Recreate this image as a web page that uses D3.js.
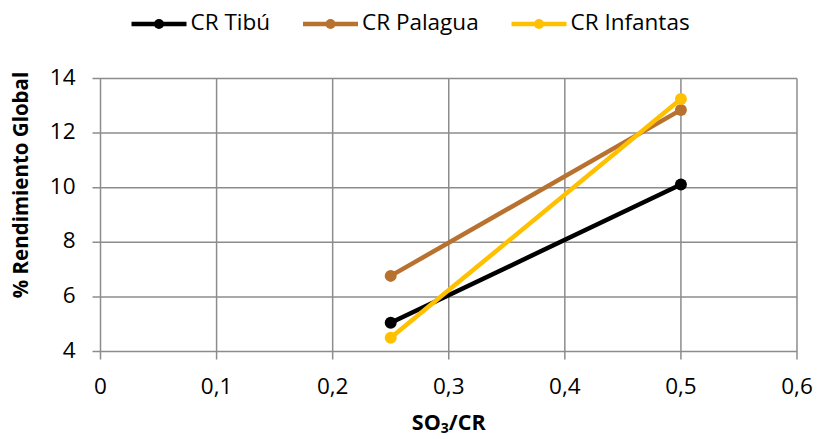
<!DOCTYPE html>
<html>
<head>
<meta charset="utf-8">
<script src="https://cdn.jsdelivr.net/npm/d3@7"></script>
<style>
  body { margin: 0; background: #fff; }
  svg { display: block; font-family: "Open Sans", Lato, sans-serif; }
</style>
</head>
<body>
<div id="chart"></div>
<script>
// ── Data ──
const seriesNames = ["CR Tibú", "CR Palagua", "CR Infantas"];
const seriesColors = ["#000000", "#B8712F", "#FFC000"];
const ratioValues = [0.25, 0.5];
const tibuValues = [5.05, 10.12];
const palaguaValues = [6.77, 12.85];
const infantasValues = [4.5, 13.25];

const xTicks = [0, 0.1, 0.2, 0.3, 0.4, 0.5, 0.6];
const yTicks = [4, 6, 8, 10, 12, 14];

const WIDTH = 817;
const HEIGHT = 439;
const margin = { left: 100.5, right: 20, top: 78.5, bottom: 87.5 };

const series = [tibuValues, palaguaValues, infantasValues].map((vals, i) => ({
    name: seriesNames[i],
    color: seriesColors[i],
    points: vals.map((v, j) => ({ x: ratioValues[j], y: v }))
}));

const svg = d3.select("#chart")
    .append("svg")
    .attr("width", WIDTH)
    .attr("height", HEIGHT);

// ── Scales ──
const x = d3.scaleLinear().domain([0, 0.6]).range([margin.left, WIDTH - margin.right]);
const y = d3.scaleLinear().domain([4, 14]).range([HEIGHT - margin.bottom, margin.top]);

const gridColor = "#8c8c8c";
const fmt = d => d3.format(".1~f")(d).replace(".", ",");

// ── Gridlines ──
svg.append("g")
    .selectAll("line")
    .data(xTicks)
    .join("line")
    .attr("x1", d => x(d)).attr("x2", d => x(d))
    .attr("y1", y(14)).attr("y2", y(4) + 8)
    .attr("stroke", gridColor)
    .attr("stroke-width", 1.5);

svg.append("g")
    .selectAll("line")
    .data(yTicks)
    .join("line")
    .attr("x1", x(0) - 8).attr("x2", x(0.6))
    .attr("y1", d => y(d)).attr("y2", d => y(d))
    .attr("stroke", gridColor)
    .attr("stroke-width", 1.5);

// ── Tick labels ──
svg.append("g")
    .selectAll("text")
    .data(xTicks)
    .join("text")
    .attr("x", d => x(d))
    .attr("y", y(4) + 36)
    .attr("text-anchor", "middle")
    .attr("dominant-baseline", "middle")
    .attr("font-size", 22.5)
    .attr("fill", "#000")
    .text(d => d === 0 ? "0" : fmt(d));

svg.append("g")
    .selectAll("text")
    .data(yTicks)
    .join("text")
    .attr("x", x(0) - 25)
    .attr("y", d => y(d))
    .attr("text-anchor", "end")
    .attr("dominant-baseline", "middle")
    .attr("font-size", 22.5)
    .attr("fill", "#000")
    .text(d => d);

// ── Axis titles ──
const xTitle = svg.append("text")
    .attr("x", (x(0) + x(0.6)) / 2)
    .attr("y", 430)
    .attr("text-anchor", "middle")
    .attr("font-size", 21.5)
    .attr("font-weight", "bold");
xTitle.append("tspan").text("SO");
xTitle.append("tspan").attr("font-size", 14).attr("dy", 3).text("3");
xTitle.append("tspan").attr("dy", -3).text("/CR");

svg.append("text")
    .attr("transform", `translate(23, 185) rotate(-90)`)
    .attr("text-anchor", "middle")
    .attr("dominant-baseline", "middle")
    .attr("font-size", 20.5)
    .attr("font-weight", "bold")
    .text("% Rendimiento Global");

// ── Series lines and markers ──
const line = d3.line().x(d => x(d.x)).y(d => y(d.y));

series.forEach(s => {
    const g = svg.append("g");
    g.append("path")
        .datum(s.points)
        .attr("d", line)
        .attr("fill", "none")
        .attr("stroke", s.color)
        .attr("stroke-width", 4.5)
        .attr("stroke-linecap", "round");
    g.selectAll("circle")
        .data(s.points)
        .join("circle")
        .attr("cx", d => x(d.x))
        .attr("cy", d => y(d.y))
        .attr("r", 6)
        .attr("fill", s.color);
});

// ── Legend ──
const legendX = [131.5, 303, 511.5];
const legend = svg.append("g");
series.forEach((s, i) => {
    const lg = legend.append("g").attr("transform", `translate(${legendX[i]}, 24)`);
    lg.append("line")
        .attr("x1", 0).attr("x2", 55)
        .attr("stroke", s.color)
        .attr("stroke-width", 4.5);
    lg.append("circle").attr("cx", 27.5).attr("r", 5).attr("fill", s.color);
    lg.append("text")
        .attr("x", 59)
        .attr("dominant-baseline", "middle")
        .attr("font-size", 22.5)
        .attr("fill", "#000")
        .text(s.name);
});
</script>
</body>
</html>
